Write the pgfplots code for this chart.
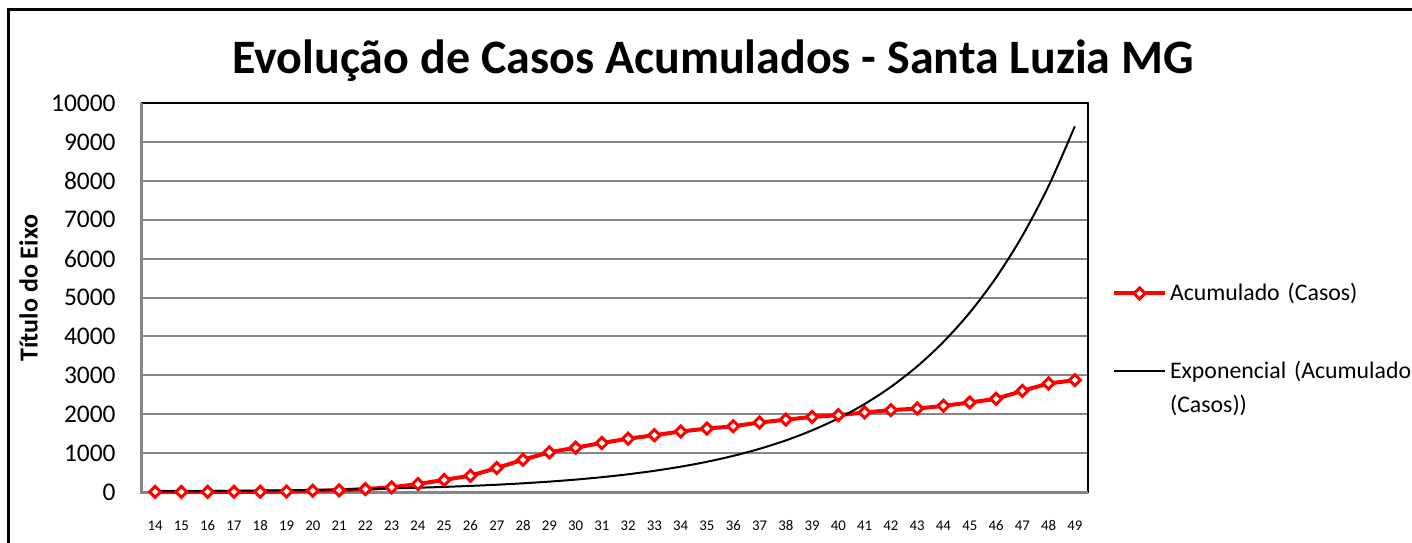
\documentclass[border=0pt]{standalone}
\usepackage{pgfplots}
\pgfplotsset{compat=1.18}
\usepackage{fontspec}
\setmainfont{Carlito}
\definecolor{gridgray}{RGB}{134,134,134}
\definecolor{xred}{RGB}{255,0,0}
\pgfplotstableread{
x y
14 2
15 3
16 4
17 5
18 6
19 15
20 32
21 42
22 76
23 120
24 205
25 310
26 420
27 615
28 830
29 1020
30 1140
31 1260
32 1370
33 1460
34 1555
35 1630
36 1690
37 1785
38 1860
39 1930
40 1975
41 2045
42 2105
43 2145
44 2215
45 2300
46 2395
47 2600
48 2790
49 2875
}\acum
\pgfplotstableread{
x y
14 19
15 22
16 26
17 32
18 38
19 45
20 54
21 64
22 77
23 92
24 110
25 131
26 157
27 187
28 224
29 267
30 319
31 381
32 456
33 545
34 651
35 777
36 929
37 1110
38 1326
39 1585
40 1893
41 2262
42 2703
43 3230
44 3860
45 4612
46 5510
47 6584
48 7867
49 9400
}\expo
\begin{document}
\begin{tikzpicture}
\begin{axis}[
  scale only axis,
  width=473pt, height=194.5pt,
  xmin=13.5, xmax=49.5, ymin=0, ymax=10000,
  xtick={14,...,49}, ytick={0,1000,...,10000},
  scaled y ticks=false,
  major tick length=0pt,
  ymajorgrids, grid style={gridgray, line width=1pt},
  axis line style={black, line width=0.7pt},
  /pgf/number format/assume math mode=true,
  /pgf/number format/1000 sep={},
  yticklabel style={font=\fontsize{12.7}{15}\selectfont, anchor=east, inner sep=0pt, xshift=-13pt},
  xticklabel style={font=\fontsize{7.4}{9}\selectfont, anchor=base, inner sep=0pt, yshift=-19pt},
  legend cell align=left,
  legend style={at={(1.0254,0.411)}, anchor=west, draw=none, fill=none,
    inner sep=0pt, outer sep=0pt, row sep=28.5pt, column sep=1.5pt,
    font=\fontsize{11.9}{17}\selectfont, nodes={inner sep=0pt, text width=150pt, align=left}},
  legend image code/.code={\path[draw=none] (0pt,-5pt) -- (0pt,5pt); \draw[mark repeat=2,mark phase=2,#1] plot coordinates {(0pt,0pt) (12.75pt,0pt) (25.5pt,0pt)};},
  clip=false,
]
\draw[gridgray, line width=1.5pt] (axis cs:13.5,10000) -- (axis cs:13.5,0) -- (axis cs:49.5,0);
\addplot[xred, line width=2pt, mark=square*, mark size=1.95pt,
  mark options={rotate=45, fill=white, draw=xred, line width=1.5pt, solid}] table[x=x,y=y] {\acum};
\addlegendentry{Acumulado (Casos)}
\addplot[black, line width=1pt, smooth, no marks] table[x=x,y=y] {\expo};
\addlegendentry{Exponencial (Acumulado\\(Casos))}
\coordinate (O) at (rel axis cs:0,0);
\end{axis}
\pgfresetboundingbox
\begin{scope}[shift={(O)}, x=1pt, y=1pt]
\useasboundingbox (-71,-25) rectangle (635,246);
\draw[line width=1.4pt] (-66.7,241.2) rectangle (660,-55);
\node[font=\fontsize{24}{28}\selectfont\bfseries, anchor=base] at (285.5,209) {Evolução de Casos Acumulados - Santa Luzia MG};
\node[font=\fontsize{13}{15}\selectfont\bfseries, rotate=90, anchor=base] at (-52.2,102) {Título do Eixo};
\end{scope}
\end{tikzpicture}
\end{document}
